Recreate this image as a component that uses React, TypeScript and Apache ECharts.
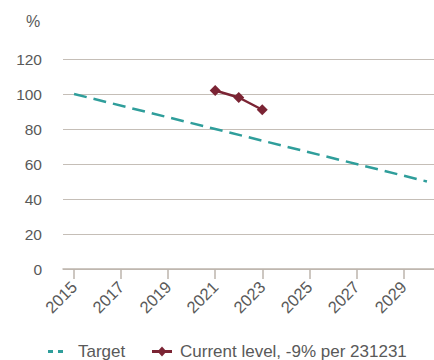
import React, { useEffect, useRef } from "react";
import * as echarts from "echarts";

const tickYears = [2015, 2017, 2019, 2021, 2023, 2025, 2027, 2029];
const targetYears = [2015, 2030];
const targetValues = [100, 50];
const currentYears = [2021, 2022, 2023];
const currentValues = [102, 98, 91];
const targetName = "Target";
const currentName = "Current level, -9% per 231231";

export default function App() {
  const ref = useRef<HTMLDivElement>(null);
  useEffect(() => {
    const chart = echarts.init(ref.current!, null, { renderer: "svg" });
    const font = "Liberation Sans, Arial, sans-serif";
    const teal = "#2f9e9b";
    const maroon = "#7b2434";
    const txt = "#595959";
    const ly = 351.5;
    chart.setOption({
      animation: false,
      textStyle: { fontFamily: font },
      grid: { left: 63, right: 0, top: 59, bottom: 91, containLabel: false },
      xAxis: {
        type: "value",
        min: 2014.53,
        max: 2030.3,
        axisLine: { show: true, lineStyle: { color: "#bdb5ad", width: 1.5 } },
        axisTick: { show: true, customValues: tickYears, length: 10, lineStyle: { color: "#bdb5ad", width: 1.5 } },
        axisLabel: {
          customValues: tickYears,
          rotate: 45,
          margin: 15,
          color: txt,
          fontSize: 16.5,
          fontFamily: font,
          formatter: (v: number) => String(v),
        },
        splitLine: { show: false },
      },
      yAxis: {
        type: "value",
        min: 0,
        max: 120,
        interval: 20,
        axisLine: { show: false },
        axisTick: { show: false },
        axisLabel: { color: txt, fontSize: 15.5, margin: 21, fontFamily: font },
        splitLine: { lineStyle: { color: "#c5beb7", width: 1.2 } },
      },
      graphic: [
        {
          type: "text",
          left: 26,
          top: 13,
          style: { text: "%", fill: txt, fontSize: 16, fontFamily: font },
        },
        { type: "rect", shape: { x: 48, y: ly - 1.5, width: 5, height: 3 }, style: { fill: teal } },
        { type: "rect", shape: { x: 58, y: ly - 1.5, width: 5, height: 3 }, style: { fill: teal } },
        {
          type: "text",
          x: 78,
          y: ly,
          style: { text: targetName, fill: txt, fontSize: 17, fontFamily: font, verticalAlign: "middle" },
        },
        {
          type: "line",
          shape: { x1: 152, y1: ly, x2: 172, y2: ly },
          style: { stroke: maroon, lineWidth: 3 },
        },
        {
          type: "polygon",
          shape: { points: [[162, ly - 5], [166.5, ly], [162, ly + 5], [157.5, ly]] },
          style: { fill: maroon },
        },
        {
          type: "text",
          x: 180,
          y: ly,
          style: { text: currentName, fill: txt, fontSize: 17, fontFamily: font, verticalAlign: "middle" },
        },
      ],
      series: [
        {
          name: targetName,
          type: "line",
          data: targetYears.map((y, i) => [y, targetValues[i]]),
          showSymbol: false,
          symbol: "none",
          lineStyle: { color: teal, width: 2.5, type: [13, 7] },
          itemStyle: { color: teal },
        },
        {
          name: currentName,
          type: "line",
          data: currentYears.map((y, i) => [y, currentValues[i]]),
          symbol: "diamond",
          symbolSize: 11,
          lineStyle: { color: maroon, width: 2.5 },
          itemStyle: { color: maroon },
        },
      ],
    });
    return () => chart.dispose();
  }, []);
  return <div ref={ref} style={{ width: 434, height: 360, position: "absolute", left: 0, top: 0 }} />;
}
